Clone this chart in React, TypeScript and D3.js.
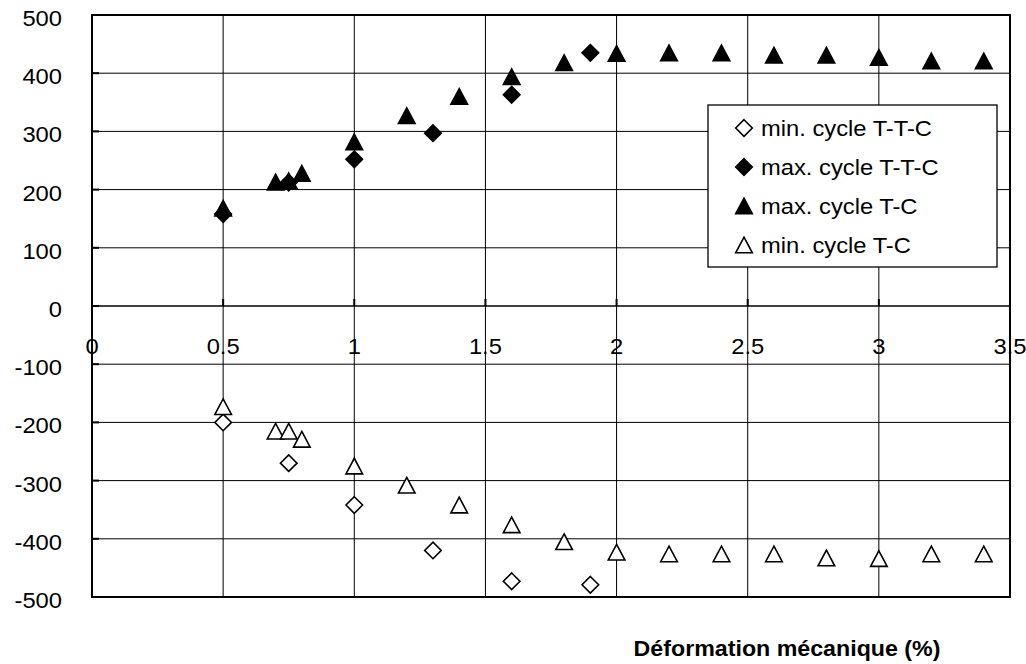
import React from "react";
import * as d3 from "d3";

const xTTC = [0.5, 0.75, 1.0, 1.3, 1.6, 1.9];
const minTTC = [-200, -270, -342, -420, -473, -479];
const maxTTC = [158, 212, 252, 297, 363, 435];

const xTC = [0.5, 0.7, 0.75, 0.8, 1.0, 1.2, 1.4, 1.6, 1.8, 2.0, 2.2, 2.4, 2.6, 2.8, 3.0, 3.2, 3.4];
const maxTC = [168, 213, 215, 228, 282, 327, 360, 394, 418, 434, 435, 435, 431, 431, 427, 421, 421];
const minTC = [-173, -215, -215, -229, -275, -308, -342, -376, -405, -423, -426, -426, -426, -433, -434, -426, -426];

const xTicks = [0, 0.5, 1, 1.5, 2, 2.5, 3, 3.5];
const xTickLabels = ["0", "0.5", "1", "1.5", "2", "2.5", "3", "3.5"];
const yTicks = [500, 400, 300, 200, 100, 0, -100, -200, -300, -400, -500];

const legendLabels = ["min. cycle T-T-C", "max. cycle T-T-C", "max. cycle T-C", "min. cycle T-C"];
const legendShapes = ["diamond", "diamond", "triangle", "triangle"];
const legendFilled = [false, true, true, false];
const xTitle = "Déformation mécanique (%)";

const W = 1026, H = 664;
const L = 92, R = 1010, T = 15, B = 597;
const FONT = "'Liberation Sans', Arial, sans-serif";
const SX = 1.08;

function Marker({ shape, cx, cy, filled }: { shape: string; cx: number; cy: number; filled: boolean }) {
  const h = 8.3;
  let d: string;
  if (shape === "diamond") {
    d = `M${cx},${cy - h} L${cx + h},${cy} L${cx},${cy + h} L${cx - h},${cy} Z`;
  } else {
    const w = 8.3, th = 7.8;
    d = `M${cx},${cy - th} L${cx + w},${cy + th} L${cx - w},${cy + th} Z`;
  }
  return (
    <path
      d={d}
      fill={filled ? "#000" : "#fff"}
      stroke="#000"
      strokeWidth={1.6}
      strokeLinejoin="miter"
    />
  );
}

export default function App() {
  const x = d3.scaleLinear().domain([0, 3.5]).range([L, R]);
  const y = d3.scaleLinear().domain([-500, 500]).range([B, T]);

  const series = [
    { xs: xTTC, ys: minTTC, shape: "diamond", filled: false },
    { xs: xTTC, ys: maxTTC, shape: "diamond", filled: true },
    { xs: xTC, ys: maxTC, shape: "triangle", filled: true },
    { xs: xTC, ys: minTC, shape: "triangle", filled: false },
  ];

  const lgX = 708, lgY = 105, lgW = 289, lgH = 162;
  const lgRow0 = 128, lgStep = 39;

  return (
    <svg width={W} height={H} style={{ position: "absolute", left: 0, top: 0, background: "#fff" }}>
      <rect x={0} y={0} width={W} height={H} fill="#fff" />
      {/* horizontal gridlines */}
      {yTicks.map((t) => (
        <line key={"hy" + t} x1={L} x2={R} y1={y(t)} y2={y(t)} stroke="#000" strokeWidth={t === 0 ? 1.3 : 1} />
      ))}
      {/* vertical gridlines */}
      {xTicks.slice(1, -1).map((t) => (
        <line key={"vx" + t} x1={x(t)} x2={x(t)} y1={T} y2={B} stroke="#000" strokeWidth={1} />
      ))}
      {/* ticks on zero axis */}
      {xTicks.map((t) => (
        <line key={"tx" + t} x1={x(t)} x2={x(t)} y1={y(0) - 7} y2={y(0)} stroke="#000" strokeWidth={2} />
      ))}
      {/* ticks on left axis */}
      {yTicks.map((t) => (
        <line key={"ty" + t} x1={L} x2={L + 7} y1={y(t)} y2={y(t)} stroke="#000" strokeWidth={2} />
      ))}
      {/* plot border */}
      <rect x={L} y={T} width={R - L} height={B - T} fill="none" stroke="#000" strokeWidth={2} />

      {/* y labels */}
      {yTicks.map((t) => (
        <text
          key={"yl" + t}
          transform={`translate(62,${y(t) + 11}) scale(${SX},1)`}
          textAnchor="end"
          fontFamily={FONT}
          fontSize={22}
          fill="#000"
        >
          {t}
        </text>
      ))}
      {/* x labels */}
      {xTicks.map((t, i) => (
        <text
          key={"xl" + t}
          transform={`translate(${x(t)},${y(0) + 48}) scale(${SX},1)`}
          textAnchor="middle"
          fontFamily={FONT}
          fontSize={22}
          fill="#000"
        >
          {xTickLabels[i]}
        </text>
      ))}

      {/* data */}
      {series.map((s, si) =>
        s.xs.map((xv, i) => (
          <Marker key={`m${si}-${i}`} shape={s.shape} cx={x(xv)} cy={y(s.ys[i])} filled={s.filled} />
        ))
      )}

      {/* legend */}
      <rect x={lgX} y={lgY} width={lgW} height={lgH} fill="#fff" stroke="#000" strokeWidth={1.3} />
      {legendLabels.map((lab, i) => (
        <g key={"lg" + i}>
          <Marker shape={legendShapes[i]} cx={744} cy={lgRow0 + i * lgStep} filled={legendFilled[i]} />
          <text
            transform={`translate(761,${lgRow0 + i * lgStep + 7.5}) scale(${SX},1)`}
            fontFamily={FONT}
            fontSize={22}
            fill="#000"
          >
            {lab}
          </text>
        </g>
      ))}

      {/* x axis title */}
      <text
        transform={`translate(787,656) scale(${SX},1)`}
        textAnchor="middle"
        fontFamily={FONT}
        fontSize={21.5}
        fontWeight="bold"
        fill="#000"
      >
        {xTitle}
      </text>
    </svg>
  );
}
